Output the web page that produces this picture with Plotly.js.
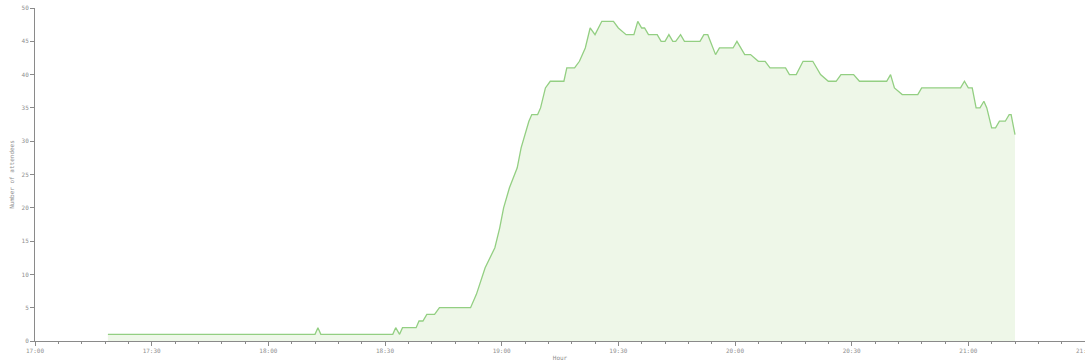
<!DOCTYPE html>
<html>
<head>
<meta charset="utf-8">
<script src="https://cdn.plot.ly/plotly-3.0.1.min.js"></script>
<style>html,body{margin:0;padding:0;background:#fff;overflow:hidden;}#chart{width:1085px;height:363px;}</style>
</head>
<body>
<div id="chart"></div>
<script>
// Time of each sample (same evening) and number of attendees
const times = [
  "17:18:45","18:12:00","18:12:45","18:13:30","18:32:00","18:32:45","18:33:45","18:34:30",
  "18:38:00","18:38:45","18:39:45","18:40:45","18:42:45","18:44:00","18:52:00","18:53:30",
  "18:55:45","18:58:15","18:59:30","19:00:30","19:02:00","19:04:00","19:05:00","19:07:00",
  "19:07:45","19:09:15","19:10:00","19:11:15","19:12:30","19:16:00","19:16:45","19:18:45",
  "19:20:00","19:21:30","19:22:45","19:24:00","19:25:45","19:28:45","19:30:00","19:32:00",
  "19:34:00","19:35:00","19:36:00","19:36:45","19:37:45","19:40:00","19:41:00","19:42:00",
  "19:43:00","19:44:00","19:44:45","19:46:00","19:47:00","19:51:00","19:52:00","19:53:00",
  "19:55:00","19:56:00","19:59:30","20:00:30","20:02:30","20:04:00","20:06:00","20:07:45",
  "20:09:00","20:13:00","20:14:00","20:15:45","20:17:30","20:20:00","20:22:00","20:24:00",
  "20:26:00","20:27:15","20:30:30","20:32:00","20:39:00","20:40:00","20:41:00","20:43:00",
  "20:47:00","20:48:00","20:58:00","20:59:00","21:00:00","21:01:00","21:02:00","21:03:00",
  "21:04:00","21:04:45","21:06:00","21:07:00","21:08:00","21:09:30","21:10:30","21:11:00",
  "21:12:00"
];
const attendees = [
  1,1,2,1,1,2,1,2,
  2,3,3,4,4,5,5,7,
  11,14,17,20,23,26,29,33,
  34,34,35,38,39,39,41,41,
  42,44,47,46,48,48,47,46,
  46,48,47,47,46,46,45,45,
  46,45,45,46,45,45,46,46,
  43,44,44,45,43,43,42,42,
  41,41,40,40,42,42,40,39,
  39,40,40,39,39,40,38,37,
  37,38,38,39,38,38,35,35,
  36,35,32,32,33,33,34,34,
  31
];
const yTicks = [0,5,10,15,20,25,30,35,40,45,50];
const day = "2000-01-01 ";

const axisColor = "#8a8a8a";
const tickFont = {family: "DejaVu Sans Mono, monospace", size: 6, color: "#8f8f8f"};

Plotly.newPlot("chart", [{
  x: times.map(t => day + t),
  y: attendees,
  type: "scatter",
  mode: "lines",
  line: {color: "#93cf82", width: 1.3, shape: "linear"},
  fill: "tozeroy",
  fillcolor: "rgba(226,242,217,0.6)",
  hoverinfo: "skip"
}], {
  width: 1085, height: 363,
  margin: {l: 35, r: 0, t: 8, b: 22, pad: 0},
  paper_bgcolor: "#fff", plot_bgcolor: "#fff",
  showlegend: false,
  xaxis: {
    type: "date",
    range: [day + "17:00:00", day + "21:30:00"],
    tick0: day + "17:00:00",
    dtick: 30 * 60 * 1000,
    tickformat: "%H:%M",
    ticks: "outside", ticklen: 4, tickwidth: 1, tickcolor: axisColor,
    ticklabeloverflow: "allow",
    minor: {dtick: 6 * 60 * 1000, ticks: "outside", ticklen: 2, tickcolor: axisColor, showgrid: false},
    showline: true, linecolor: axisColor, linewidth: 1,
    showgrid: false, zeroline: false,
    tickfont: tickFont,
    title: {text: "Hour", font: tickFont, standoff: 2}
  },
  yaxis: {
    range: [0, 50],
    tickvals: yTicks,
    ticktext: yTicks.map(String),
    ticks: "outside", ticklen: 4, tickwidth: 1, tickcolor: axisColor,
    showline: true, linecolor: axisColor, linewidth: 1,
    showgrid: false, zeroline: false,
    tickfont: tickFont,
    title: {text: "Number of attendees", font: tickFont, standoff: 6}
  }
}, {displayModeBar: false, staticPlot: true});
</script>
</body>
</html>
